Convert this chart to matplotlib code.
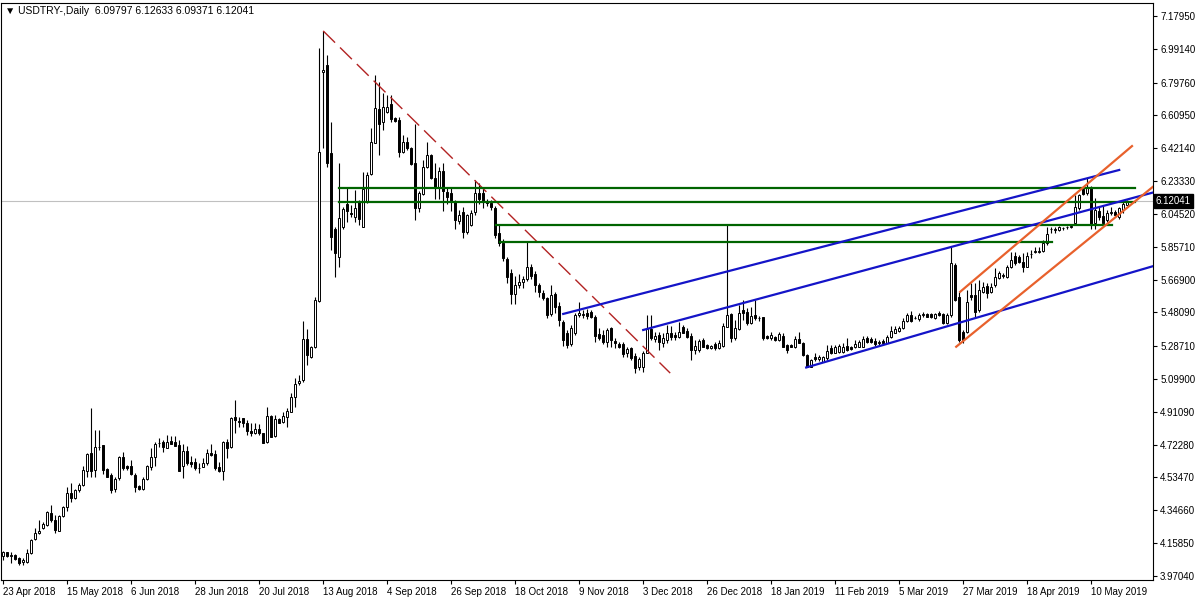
import numpy as np
import matplotlib
matplotlib.use("Agg")
import matplotlib.pyplot as plt

plt.rcParams["font.family"] = ["Liberation Sans", "DejaVu Sans"]

# daily OHLC, USDTRY, 23 Apr 2018 .. May 2019
opens = [
    4.085, 4.106, 4.085, 4.090, 4.075, 4.052, 4.052, 4.100, 4.180, 4.214,
    4.243, 4.262, 4.333, 4.291, 4.230, 4.314, 4.367, 4.448, 4.415, 4.463,
    4.493, 4.574, 4.677, 4.577, 4.707, 4.720, 4.581, 4.549, 4.468, 4.530,
    4.650, 4.600, 4.600, 4.547, 4.486, 4.470, 4.524, 4.597, 4.654, 4.730,
    4.740, 4.706, 4.744, 4.736, 4.721, 4.603, 4.686, 4.625, 4.621, 4.587,
    4.597, 4.616, 4.677, 4.669, 4.593, 4.574, 4.736, 4.711, 4.879, 4.856,
    4.874, 4.849, 4.801, 4.792, 4.811, 4.788, 4.736, 4.887, 4.774, 4.868,
    4.855, 4.883, 4.912, 4.998, 5.074, 5.094, 5.326, 5.227, 5.281, 5.548,
    6.857, 6.899, 6.393, 5.957, 5.797, 5.972, 6.102, 6.049, 6.030, 6.116,
    5.972, 6.116, 6.274, 6.454, 6.645, 6.574, 6.631, 6.675, 6.593, 6.584,
    6.402, 6.459, 6.425, 6.339, 6.077, 6.160, 6.312, 6.383, 6.249, 6.198,
    6.290, 6.173, 6.163, 6.116, 6.007, 6.058, 5.944, 5.982, 6.058, 6.167,
    6.167, 6.119, 6.106, 6.077, 5.934, 5.880, 5.785, 5.705, 5.586, 5.638,
    5.653, 5.670, 5.743, 5.700, 5.638, 5.594, 5.561, 5.472, 5.586, 5.520,
    5.428, 5.360, 5.300, 5.361, 5.466, 5.467, 5.479, 5.485, 5.456, 5.357,
    5.351, 5.313, 5.390, 5.319, 5.300, 5.300, 5.246, 5.275, 5.231, 5.170,
    5.170, 5.250, 5.384, 5.327, 5.351, 5.308, 5.323, 5.365, 5.351, 5.338,
    5.399, 5.376, 5.346, 5.266, 5.266, 5.323, 5.294, 5.275, 5.300, 5.275,
    5.288, 5.399, 5.472, 5.332, 5.384, 5.495, 5.485, 5.418, 5.466, 5.447,
    5.453, 5.346, 5.332, 5.342, 5.323, 5.346, 5.294, 5.294, 5.281, 5.327,
    5.308, 5.237, 5.170, 5.223, 5.212, 5.199, 5.218, 5.275, 5.250, 5.256,
    5.256, 5.288, 5.281, 5.281, 5.285, 5.285, 5.332, 5.327, 5.319, 5.307,
    5.319, 5.308, 5.338, 5.365, 5.376, 5.390, 5.434, 5.466, 5.447, 5.441,
    5.466, 5.472, 5.472, 5.447, 5.479, 5.472, 5.422, 5.466, 5.753, 5.571,
    5.371, 5.371, 5.581, 5.581, 5.495, 5.600, 5.632, 5.600, 5.638, 5.676,
    5.690, 5.686, 5.743, 5.804, 5.800, 5.772, 5.743, 5.815, 5.829, 5.828,
    5.835, 5.877, 5.957, 5.953, 5.953, 5.962, 5.968, 5.972, 5.991, 6.077,
    6.186, 6.163, 6.192, 5.995, 6.064, 6.033, 6.010, 6.052, 6.058, 6.026,
    6.068, 6.09797,
]
highs = [
    4.112, 4.110, 4.110, 4.095, 4.080, 4.071, 4.123, 4.180, 4.243, 4.291,
    4.281, 4.340, 4.377, 4.320, 4.318, 4.371, 4.478, 4.501, 4.470, 4.501,
    4.600, 4.677, 4.931, 4.807, 4.807, 4.722, 4.590, 4.558, 4.539, 4.658,
    4.682, 4.605, 4.635, 4.558, 4.490, 4.539, 4.605, 4.702, 4.736, 4.759,
    4.750, 4.778, 4.772, 4.772, 4.750, 4.727, 4.715, 4.658, 4.648, 4.616,
    4.644, 4.696, 4.727, 4.692, 4.622, 4.746, 4.753, 4.883, 4.979, 4.883,
    4.874, 4.864, 4.849, 4.845, 4.841, 4.792, 4.941, 4.893, 4.893, 4.874,
    4.912, 4.935, 5.021, 5.103, 5.122, 5.433, 5.384, 5.288, 5.571, 6.994,
    7.094, 6.956, 6.574, 5.972, 6.339, 6.085, 6.192, 6.096, 6.182, 6.125,
    6.288, 6.288, 6.536, 6.841, 6.803, 6.736, 6.727, 6.727, 6.600, 6.603,
    6.498, 6.488, 6.431, 6.561, 6.178, 6.354, 6.459, 6.390, 6.335, 6.316,
    6.335, 6.200, 6.200, 6.125, 6.070, 6.085, 6.045, 6.066, 6.240, 6.220,
    6.200, 6.130, 6.125, 6.090, 5.990, 5.900, 5.800, 5.730, 5.690, 5.700,
    5.690, 5.887, 5.760, 5.720, 5.650, 5.610, 5.570, 5.640, 5.600, 5.540,
    5.440, 5.380, 5.410, 5.480, 5.542, 5.495, 5.500, 5.495, 5.466, 5.390,
    5.380, 5.390, 5.395, 5.332, 5.313, 5.313, 5.285, 5.285, 5.246, 5.223,
    5.262, 5.466, 5.466, 5.371, 5.371, 5.361, 5.409, 5.403, 5.371, 5.428,
    5.409, 5.390, 5.361, 5.323, 5.327, 5.332, 5.300, 5.295, 5.310, 5.320,
    5.418, 5.982, 5.476, 5.437, 5.523, 5.552, 5.504, 5.510, 5.552, 5.460,
    5.457, 5.350, 5.370, 5.348, 5.371, 5.361, 5.300, 5.300, 5.346, 5.371,
    5.313, 5.243, 5.215, 5.246, 5.235, 5.232, 5.294, 5.294, 5.294, 5.300,
    5.304, 5.332, 5.290, 5.323, 5.320, 5.346, 5.346, 5.342, 5.332, 5.323,
    5.327, 5.351, 5.403, 5.403, 5.403, 5.447, 5.479, 5.491, 5.460, 5.476,
    5.485, 5.479, 5.476, 5.479, 5.491, 5.479, 5.476, 5.858, 5.762, 5.600,
    5.380, 5.609, 5.651, 5.648, 5.667, 5.657, 5.648, 5.648, 5.733, 5.720,
    5.705, 5.750, 5.829, 5.829, 5.810, 5.820, 5.829, 5.839, 5.858, 5.854,
    5.896, 5.972, 5.972, 5.972, 5.975, 5.972, 5.975, 5.980, 6.154, 6.160,
    6.201, 6.249, 6.205, 6.135, 6.087, 6.096, 6.068, 6.087, 6.065, 6.087,
    6.116, 6.12633,
]
lows = [
    4.062, 4.080, 4.043, 4.060, 4.035, 4.033, 4.043, 4.095, 4.176, 4.210,
    4.240, 4.255, 4.281, 4.214, 4.226, 4.306, 4.344, 4.396, 4.410, 4.453,
    4.486, 4.539, 4.539, 4.539, 4.692, 4.554, 4.535, 4.444, 4.453, 4.520,
    4.577, 4.580, 4.549, 4.453, 4.465, 4.463, 4.520, 4.578, 4.602, 4.711,
    4.683, 4.702, 4.725, 4.717, 4.574, 4.534, 4.606, 4.593, 4.578, 4.559,
    4.593, 4.606, 4.660, 4.578, 4.568, 4.520, 4.644, 4.702, 4.788, 4.822,
    4.826, 4.778, 4.772, 4.784, 4.776, 4.734, 4.730, 4.769, 4.769, 4.845,
    4.849, 4.826, 4.912, 4.941, 5.065, 5.084, 5.179, 5.218, 5.275, 5.540,
    6.421, 6.316, 5.839, 5.686, 5.739, 5.960, 6.001, 6.030, 6.001, 5.982,
    5.972, 6.110, 6.270, 6.450, 6.383, 6.526, 6.622, 6.574, 6.574, 6.373,
    6.396, 6.412, 6.325, 6.010, 6.058, 6.154, 6.307, 6.244, 6.129, 6.130,
    6.060, 6.100, 6.060, 5.960, 5.990, 5.910, 5.930, 5.975, 6.040, 6.100,
    6.080, 6.090, 6.070, 5.910, 5.860, 5.775, 5.650, 5.530, 5.530, 5.620,
    5.620, 5.660, 5.670, 5.600, 5.570, 5.550, 5.450, 5.460, 5.480, 5.400,
    5.290, 5.275, 5.290, 5.350, 5.457, 5.447, 5.445, 5.447, 5.313, 5.323,
    5.300, 5.285, 5.285, 5.275, 5.275, 5.227, 5.227, 5.208, 5.136, 5.151,
    5.141, 5.246, 5.323, 5.313, 5.265, 5.285, 5.304, 5.323, 5.323, 5.332,
    5.361, 5.332, 5.208, 5.243, 5.256, 5.281, 5.270, 5.270, 5.265, 5.270,
    5.285, 5.395, 5.313, 5.323, 5.380, 5.437, 5.409, 5.415, 5.437, 5.434,
    5.323, 5.328, 5.323, 5.318, 5.319, 5.281, 5.250, 5.280, 5.277, 5.304,
    5.231, 5.166, 5.165, 5.204, 5.205, 5.195, 5.208, 5.242, 5.246, 5.250,
    5.250, 5.262, 5.265, 5.275, 5.280, 5.281, 5.307, 5.304, 5.288, 5.294,
    5.294, 5.304, 5.332, 5.361, 5.370, 5.384, 5.428, 5.428, 5.441, 5.434,
    5.457, 5.453, 5.450, 5.441, 5.460, 5.415, 5.415, 5.457, 5.548, 5.313,
    5.304, 5.361, 5.552, 5.456, 5.485, 5.590, 5.562, 5.590, 5.628, 5.670,
    5.680, 5.680, 5.734, 5.753, 5.765, 5.714, 5.739, 5.791, 5.820, 5.820,
    5.829, 5.867, 5.934, 5.934, 5.950, 5.955, 5.960, 5.965, 5.982, 6.070,
    6.154, 6.154, 5.957, 5.957, 6.011, 5.991, 6.001, 6.040, 6.035, 6.014,
    6.053, 6.09371,
]
closes = [
    4.110, 4.085, 4.086, 4.066, 4.046, 4.061, 4.100, 4.176, 4.214, 4.228,
    4.268, 4.337, 4.291, 4.234, 4.314, 4.367, 4.444, 4.415, 4.463, 4.490,
    4.577, 4.669, 4.574, 4.707, 4.709, 4.577, 4.539, 4.463, 4.526, 4.650,
    4.587, 4.587, 4.554, 4.482, 4.470, 4.526, 4.600, 4.654, 4.727, 4.733,
    4.707, 4.740, 4.727, 4.717, 4.574, 4.686, 4.616, 4.612, 4.587, 4.589,
    4.616, 4.673, 4.664, 4.591, 4.572, 4.736, 4.706, 4.878, 4.864, 4.855,
    4.849, 4.803, 4.792, 4.812, 4.792, 4.734, 4.887, 4.769, 4.868, 4.849,
    4.887, 4.916, 4.994, 5.071, 5.088, 5.326, 5.237, 5.281, 5.552, 6.402,
    6.870, 6.339, 5.911, 5.820, 6.020, 6.072, 6.064, 6.047, 6.077, 6.014,
    6.186, 6.268, 6.459, 6.650, 6.561, 6.660, 6.660, 6.587, 6.580, 6.402,
    6.459, 6.421, 6.331, 6.077, 6.163, 6.316, 6.383, 6.249, 6.192, 6.293,
    6.175, 6.144, 6.116, 6.010, 6.039, 5.944, 6.039, 6.052, 6.163, 6.129,
    6.116, 6.106, 6.083, 5.924, 5.880, 5.791, 5.686, 5.586, 5.638, 5.653,
    5.670, 5.743, 5.690, 5.638, 5.600, 5.561, 5.466, 5.580, 5.514, 5.437,
    5.323, 5.295, 5.390, 5.466, 5.476, 5.468, 5.460, 5.453, 5.346, 5.332,
    5.313, 5.380, 5.323, 5.304, 5.285, 5.243, 5.269, 5.218, 5.160, 5.212,
    5.250, 5.384, 5.332, 5.346, 5.313, 5.332, 5.365, 5.342, 5.338, 5.371,
    5.365, 5.338, 5.266, 5.288, 5.319, 5.285, 5.275, 5.288, 5.275, 5.304,
    5.403, 5.466, 5.332, 5.390, 5.479, 5.476, 5.418, 5.460, 5.447, 5.446,
    5.332, 5.332, 5.351, 5.323, 5.357, 5.285, 5.266, 5.285, 5.327, 5.308,
    5.237, 5.170, 5.208, 5.212, 5.227, 5.223, 5.262, 5.246, 5.285, 5.288,
    5.285, 5.266, 5.269, 5.300, 5.313, 5.327, 5.313, 5.313, 5.300, 5.308,
    5.304, 5.342, 5.376, 5.384, 5.390, 5.434, 5.466, 5.434, 5.448, 5.466,
    5.467, 5.456, 5.453, 5.472, 5.466, 5.422, 5.466, 5.762, 5.552, 5.323,
    5.323, 5.542, 5.571, 5.485, 5.609, 5.625, 5.594, 5.628, 5.686, 5.705,
    5.692, 5.743, 5.781, 5.766, 5.772, 5.743, 5.804, 5.816, 5.830, 5.829,
    5.881, 5.930, 5.958, 5.954, 5.968, 5.963, 5.969, 5.973, 6.083, 6.154,
    6.160, 6.192, 5.982, 6.068, 6.026, 5.995, 6.052, 6.053, 6.039, 6.077,
    6.102, 6.12041,
]

date_labels = ["23 Apr 2018", "15 May 2018", "6 Jun 2018", "28 Jun 2018",
               "20 Jul 2018", "13 Aug 2018", "4 Sep 2018", "26 Sep 2018",
               "18 Oct 2018", "9 Nov 2018", "3 Dec 2018", "26 Dec 2018",
               "18 Jan 2019", "11 Feb 2019", "5 Mar 2019", "27 Mar 2019",
               "18 Apr 2019", "10 May 2019"]
price_ticks = [7.17950, 6.99140, 6.79760, 6.60950, 6.42140, 6.23330,
               6.04520, 5.85710, 5.66900, 5.48090, 5.28710, 5.09900,
               4.91090, 4.72280, 4.53470, 4.34660, 4.15850, 3.97040]
last_price = 6.12041
title = "\u25bc USDTRY-,Daily  6.09797 6.12633 6.09371 6.12041"

# drawn objects, anchors as (bar, price)
red_trend = [(80, 7.094), (166.75, 5.133)]
green_levels = [(84, 283, 6.194), (84, 283, 6.115),
                (123.25, 277.25, 5.982), (124.25, 262.25, 5.886)]
blue_segment = [(140, 5.472), (279, 6.297)]
blue_rays = [[(160, 5.380), (284.25, 6.148)],
             [(200.75, 5.165), (286.75, 5.741)]]
orange_segment = [(239.25, 5.599), (282.2, 6.434)]
orange_ray = [(238.25, 5.284), (286.75, 6.188)]

X_MIN, X_MAX = -0.5, 287.5


def ray_end(p1, p2, x_end):
    slope = (p2[1] - p1[1]) / (p2[0] - p1[0])
    return p1[1] + slope * (x_end - p1[0])


o = np.array(opens)
h = np.array(highs)
l = np.array(lows)
c = np.array(closes)
x = np.arange(len(c))
h = np.maximum(h, np.maximum(o, c))
l = np.minimum(l, np.minimum(o, c))

fig = plt.figure(figsize=(12, 6), dpi=100)
ax = fig.add_axes([0.001, 0.0333, 0.96, 0.9617])
ax.set_xlim(X_MIN, X_MAX)
ax.set_ylim(3.947, 7.254)

# current price line
ax.axhline(last_price, color="#c0c0c0", lw=0.8, zorder=1)

# candles
up = c >= o
bottom = np.minimum(o, c)
height = np.maximum(np.abs(c - o), 0.003)
ax.vlines(x, l, h, color="black", lw=0.8, zorder=2)
ax.bar(x[up], height[up], bottom=bottom[up], width=0.6,
       facecolor="white", edgecolor="black", linewidth=0.7, zorder=3)
ax.bar(x[~up], height[~up], bottom=bottom[~up], width=0.6,
       facecolor="black", edgecolor="black", linewidth=0.7, zorder=3)

# objects
ax.plot([p[0] for p in red_trend], [p[1] for p in red_trend],
        color="#b22222", lw=1.0, ls=(0, (12, 5)), zorder=4)
for x0, x1, lvl in green_levels:
    ax.plot([x0, x1], [lvl, lvl], color="#006400", lw=1.6, zorder=4)
ax.plot([p[0] for p in blue_segment], [p[1] for p in blue_segment],
        color="#1414c8", lw=1.6, zorder=4)
for p1, p2 in blue_rays:
    ax.plot([p1[0], X_MAX], [p1[1], ray_end(p1, p2, X_MAX)],
            color="#1414c8", lw=1.6, zorder=4)
ax.plot([p[0] for p in orange_segment], [p[1] for p in orange_segment],
        color="#e8612c", lw=1.6, zorder=4)
ax.plot([orange_ray[0][0], X_MAX],
        [orange_ray[0][1], ray_end(orange_ray[0], orange_ray[1], X_MAX)],
        color="#e8612c", lw=1.6, zorder=4)

# axes styling
for s in ax.spines.values():
    s.set_color("black")
    s.set_linewidth(0.8)
ax.yaxis.tick_right()
ax.set_yticks(price_ticks)
ax.set_yticklabels([f"{v:.5f}" for v in price_ticks])
ax.tick_params(axis="y", direction="out", length=3, width=0.8,
               labelsize=7, pad=2)
ax.set_xticks(np.arange(len(date_labels)) * 16)
ax.set_xticklabels(date_labels)
ax.tick_params(axis="x", direction="out", length=3, width=0.8,
               labelsize=7, pad=2)
for lab in ax.get_xticklabels():
    lab.set_ha("left")

ax.annotate(f"{last_price:.5f}", xy=(1.0, last_price),
            xycoords=ax.get_yaxis_transform(), xytext=(2, 0),
            textcoords="offset points", ha="left", va="center",
            fontsize=7, color="white",
            bbox=dict(boxstyle="square,pad=0.2", fc="black", ec="black"))

fig.text(0.004, 0.982, title, fontsize=7.5, va="center", ha="left")

fig.savefig("out.png", dpi=100)
